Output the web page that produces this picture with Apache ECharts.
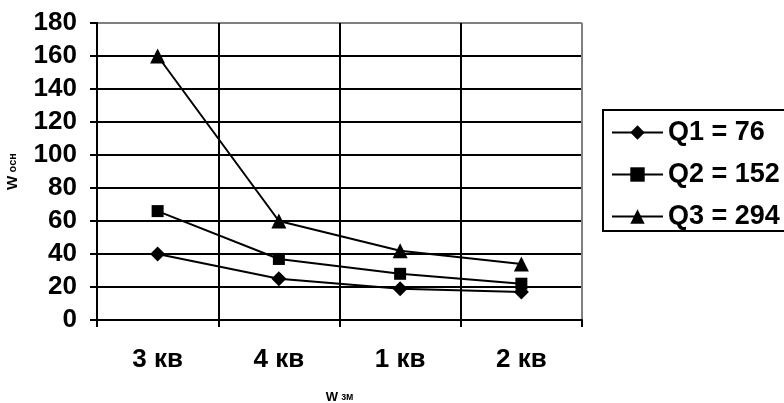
<!DOCTYPE html>
<html>
<head>
<meta charset="utf-8">
<script src="https://cdn.jsdelivr.net/npm/echarts@6/dist/echarts.min.js"></script>
<style>html,body{margin:0;padding:0;background:#fff}#c{width:784px;height:403px}</style>
</head>
<body>
<div id="c"></div>
<script>
var categories = ['3 кв', '4 кв', '1 кв', '2 кв'];
var seriesNames = ['Q1 = 76', 'Q2 = 152', 'Q3 = 294'];
var q1 = [40, 25, 19, 17];
var q2 = [66, 37, 28, 22];
var q3 = [160, 60, 42, 34];
var yTicks = [0, 20, 40, 60, 80, 100, 120, 140, 160, 180];

var FONT = 'Liberation Sans, Arial, sans-serif';
var chart = echarts.init(document.getElementById('c'));
var yColors = yTicks.map(function (v, i) { return i === yTicks.length - 1 ? '#808080' : '#000'; });
function mk(name, data, symbol, size) {
  return {
    name: name, type: 'line', data: data, symbol: symbol, symbolSize: size,
    lineStyle: { color: '#000', width: 2 }, itemStyle: { color: '#000' },
    animation: false
  };
}
chart.setOption({
  backgroundColor: '#fff',
  animation: false,
  grid: { left: 97, right: 202, top: 23, bottom: 83, containLabel: false, outerBoundsMode: 'none' },
  legend: {
    orient: 'vertical', left: 603, top: 110,
    borderColor: '#000', borderWidth: 2, padding: [9, 6, 1, 8],
    itemWidth: 51, itemHeight: 18, itemGap: 15,
    textStyle: { fontFamily: FONT, fontWeight: 'bold', fontSize: 27, color: '#000' },
    data: seriesNames
  },
  xAxis: {
    type: 'category', data: categories, boundaryGap: true,
    name: '{a|W} {b|зм}', nameLocation: 'middle', nameGap: 71,
    nameTextStyle: { rich: {
      a: { fontFamily: FONT, fontWeight: 'bold', fontSize: 13, color: '#000' },
      b: { fontFamily: FONT, fontWeight: 'bold', fontSize: 10, color: '#000' } } },
    axisLine: { lineStyle: { color: '#000', width: 2 } },
    axisTick: { show: true, length: 7, lineStyle: { color: '#000', width: 2 } },
    axisLabel: { margin: 27, fontFamily: FONT, fontWeight: 'bold', fontSize: 26, color: '#000' },
    splitLine: { show: true, lineStyle: { color: ['#000', '#000', '#000', '#000', '#808080'], width: 2 } }
  },
  yAxis: {
    type: 'value', min: 0, max: 180, interval: 20,
    name: '{a|W} {b|осн}', nameLocation: 'middle', nameGap: 77, nameRotate: 90,
    nameTextStyle: { rich: {
      a: { fontFamily: FONT, fontWeight: 'bold', fontSize: 15, color: '#000' },
      b: { fontFamily: FONT, fontWeight: 'bold', fontSize: 11, color: '#000' } } },
    axisLine: { show: true, lineStyle: { color: '#000', width: 2 } },
    axisTick: { show: true, length: 7, lineStyle: { color: '#000', width: 2 } },
    axisLabel: { margin: 20, fontFamily: FONT, fontWeight: 'bold', fontSize: 26, color: '#000' },
    splitLine: { show: true, lineStyle: { color: yColors, width: 2 } }
  },
  series: [
    mk(seriesNames[0], q1, 'diamond', 15),
    mk(seriesNames[1], q2, 'rect', 12),
    mk(seriesNames[2], q3, 'triangle', 15)
  ]
});
</script>
</body>
</html>
